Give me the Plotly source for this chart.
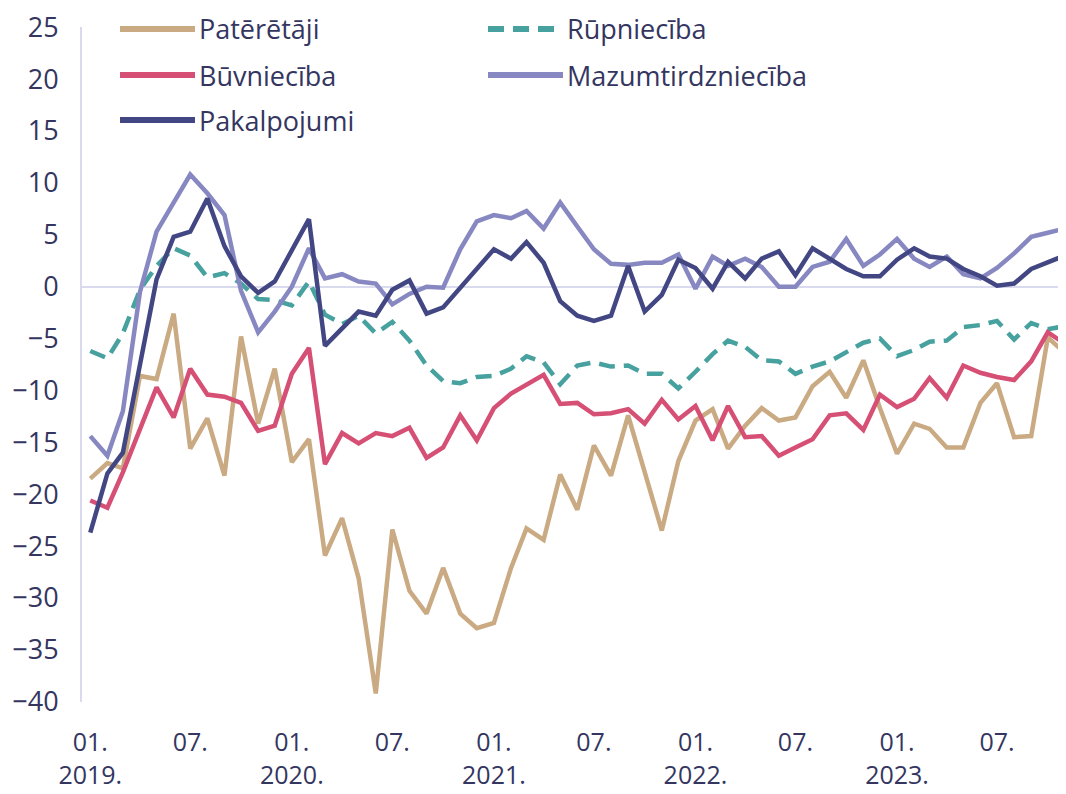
import pandas as pd
import plotly.graph_objects as go

# monthly data, Jan 2019 - Nov 2023
months = pd.date_range("2019-01-01", periods=59, freq="MS")

pateretaji = [-18.5, -17.0, -17.5, -8.6, -8.9, -2.6, -15.6, -12.7, -18.2, -4.8, -13.2, -7.9,
              -16.9, -14.7, -25.9, -22.3, -28.1, -39.2, -23.4, -29.3, -31.5, -27.1, -31.5, -32.9,
              -32.4, -27.1, -23.3, -24.4, -18.1, -21.5, -15.3, -18.2, -12.4, -18.0, -23.5, -16.8,
              -12.9, -11.8, -15.6, -13.4, -11.7, -12.9, -12.6, -9.6, -8.2, -10.7, -7.1, -11.7,
              -16.1, -13.2, -13.7, -15.5, -15.5, -11.2, -9.3, -14.5, -14.4, -4.9, -6.4]

rupnieciba = [-6.2, -6.9, -4.5, -0.3, 2.0, 3.7, 3.0, 0.9, 1.3, 0.3, -1.2, -1.3,
              -1.8, 0.5, -2.7, -3.6, -2.8, -4.5, -3.4, -5.2, -7.6, -9.1, -9.3, -8.7,
              -8.6, -7.9, -6.7, -7.3, -9.4, -7.6, -7.3, -7.7, -7.6, -8.4, -8.4, -9.8,
              -8.2, -6.5, -5.2, -5.8, -7.1, -7.2, -8.4, -7.7, -7.2, -6.3, -5.4, -5.0,
              -6.7, -6.1, -5.3, -5.2, -3.9, -3.7, -3.3, -5.1, -3.5, -4.1, -3.8]

buvnieciba = [-20.6, -21.3, -17.9, -13.7, -9.7, -12.6, -7.9, -10.4, -10.6, -11.2, -13.9, -13.4,
              -8.4, -5.9, -17.1, -14.1, -15.1, -14.1, -14.4, -13.6, -16.5, -15.5, -12.4, -14.8,
              -11.7, -10.3, -9.5, -8.5, -11.3, -11.2, -12.3, -12.2, -11.8, -13.2, -10.9, -12.8,
              -11.5, -14.8, -11.5, -14.5, -14.4, -16.3, -15.5, -14.7, -12.4, -12.2, -13.8, -10.4,
              -11.6, -10.8, -8.8, -10.7, -7.6, -8.3, -8.7, -9.0, -7.2, -4.4, -5.5]

mazumtirdznieciba = [-14.4, -16.3, -12.0, -0.5, 5.3, 8.2, 10.8, 9.0, 6.9, -0.4, -4.4, -2.4,
                     0.0, 3.7, 0.8, 1.2, 0.5, 0.3, -1.7, -0.7, 0.0, -0.1, 3.6, 6.3,
                     6.9, 6.6, 7.3, 5.6, 8.1, 5.8, 3.6, 2.2, 2.1, 2.3, 2.3, 3.1,
                     -0.2, 2.9, 2.0, 2.7, 1.9, 0.0, 0.0, 1.9, 2.4, 4.6, 2.0, 3.1,
                     4.6, 2.7, 1.9, 2.9, 1.2, 0.8, 1.8, 3.2, 4.8, 5.2, 5.6]

pakalpojumi = [-23.7, -18.0, -16.0, -7.5, 0.7, 4.8, 5.3, 8.5, 3.9, 1.0, -0.6, 0.5,
               3.6, 6.5, -5.7, -4.1, -2.4, -2.8, -0.3, 0.6, -2.6, -2.0, -0.1, 1.8,
               3.6, 2.7, 4.3, 2.3, -1.4, -2.8, -3.3, -2.8, 2.0, -2.4, -0.8, 2.6,
               1.8, -0.2, 2.4, 0.8, 2.7, 3.4, 1.1, 3.7, 2.7, 1.7, 1.0, 1.0,
               2.6, 3.7, 2.9, 2.7, 1.7, 1.0, 0.1, 0.3, 1.7, 2.3, 3.0]

tick_dates = ["2019-01-01", "2019-07-01", "2020-01-01", "2020-07-01", "2021-01-01",
              "2021-07-01", "2022-01-01", "2022-07-01", "2023-01-01", "2023-07-01"]
tick_text = ["01.<br>2019.", "07.", "01.<br>2020.", "07.", "01.<br>2021.",
             "07.", "01.<br>2022.", "07.", "01.<br>2023.", "07."]
y_ticks = [25, 20, 15, 10, 5, 0, -5, -10, -15, -20, -25, -30, -35, -40]

TEXT = "#34365f"
GRID = "#dadaee"
# the page body adds an 8px margin, so the figure is a bit smaller than the window
W, H = 1058, 786
M_L, M_R, M_T, M_B = 74, 0, 19, 92
OFF = 8

series = [
    ("Patērētāji", pateretaji, "#c9aa82", "solid"),
    ("Rūpniecība", rupnieciba, "#46a19f", "16px,9px"),
    ("Būvniecība", buvnieciba, "#d64f74", "solid"),
    ("Mazumtirdzniecība", mazumtirdznieciba, "#8788c1", "solid"),
    ("Pakalpojumi", pakalpojumi, "#424682", "solid"),
]

fig = go.Figure()
for name, vals, color, dash in series:
    fig.add_trace(go.Scatter(x=months, y=vals, name=name, mode="lines",
                             line=dict(color=color, width=4.5, dash=dash)))


# legend drawn by hand so the line samples can be long like in the original
def px_x(px):
    return (px - OFF - M_L) / (W - M_L - M_R)


def px_y(py):
    return (H - M_B - (py - OFF)) / (H - M_T - M_B)


# rows nudged down a few px so the top row stays inside the figure
legend_pos = {
    "Patērētāji": (120, 29), "Būvniecība": (120, 75), "Pakalpojumi": (120, 120),
    "Rūpniecība": (488, 29), "Mazumtirdzniecība": (488, 75),
}
for name, vals, color, dash in series:
    lx, ly = legend_pos[name]
    fig.add_shape(type="line", xref="paper", yref="paper",
                  x0=px_x(lx), x1=px_x(lx + 75), y0=px_y(ly), y1=px_y(ly),
                  line=dict(color=color, width=6, dash=dash))
    fig.add_annotation(x=px_x(lx + 77), y=px_y(ly), xref="paper", yref="paper",
                       text=name, showarrow=False, xanchor="left", yanchor="middle",
                       font=dict(size=27, color=TEXT))

fig.update_layout(
    width=W, height=H,
    margin=dict(l=M_L, r=M_R, t=M_T, b=M_B),
    plot_bgcolor="white", paper_bgcolor="white",
    font=dict(family="Open Sans", size=27, color=TEXT),
    showlegend=False,
)
fig.update_xaxes(
    range=["2018-12-17", "2023-11-03"],
    tickvals=tick_dates, ticktext=tick_text, tickfont=dict(size=25),
    showgrid=False, zeroline=False, showline=False, automargin=False,
    ticks="outside", ticklen=18, tickcolor="rgba(0,0,0,0)",
)
fig.update_yaxes(
    range=[-40.02, 25.02], tickvals=y_ticks, automargin=False,
    ticklabeloverflow="allow",
    showgrid=False, zeroline=True, zerolinecolor=GRID, zerolinewidth=2,
    showline=True, linecolor=GRID, linewidth=2,
    ticks="outside", ticklen=16, tickcolor="rgba(0,0,0,0)",
)

fig.write_html("out.html")
